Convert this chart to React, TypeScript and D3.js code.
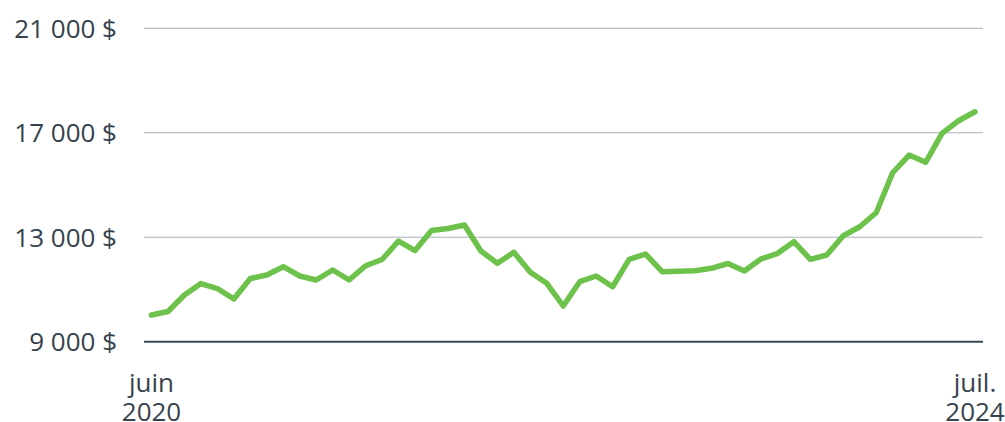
import React from 'react';
import * as d3 from 'd3';

// monthly values, June 2020 -> July 2024
const VALUES = [
  10020, 10156, 10788, 11228, 11036, 10635, 11419, 11553, 11871, 11515,
  11362, 11745, 11362, 11909, 12147, 12855, 12491, 13257, 13333, 13467,
  12472, 12001, 12422, 11657, 11236, 10367, 11297, 11515, 11105, 12154,
  12357, 11680, 11695, 11718, 11810, 11994, 11706, 12166, 12376, 12828,
  12154, 12319, 13058, 13402, 13938, 15469, 16147, 15867, 16978, 17460,
  17804,
];
const Y_TICKS = [9000, 13000, 17000, 21000];
const X_LABELS = [
  { index: 0, lines: ['juin', '2020'] },
  { index: VALUES.length - 1, lines: ['juil.', '2024'] },
];

const W = 1005, H = 422;
const TEXT = '#36434d';
const FONT = '"Open Sans", sans-serif';

const fmt = (v: number) => d3.format(',')(v).replace(/,/g, '\u00a0') + '\u00a0$';

export default function App() {
  const x = d3.scaleLinear().domain([0, VALUES.length - 1]).range([151.5, 975]);
  const y = d3.scaleLinear().domain([9000, 21000]).range([341.7, 28.3]);

  const line = d3.line<number>()
    .x((_, i) => x(i))
    .y(d => y(d));

  return (
    <svg width={W} height={H} style={{ position: 'absolute', left: 0, top: 0 }} fontFamily={FONT}>
      {Y_TICKS.map(t => (
        <g key={t}>
          <line x1={144} x2={983} y1={y(t)} y2={y(t)}
            stroke={t === 9000 ? '#3a4750' : '#aab1b9'}
            strokeWidth={t === 9000 ? 2 : 1} />
          <text x={117} y={y(t) + 9.5} textAnchor="end" fontSize={26} fill={TEXT}>{fmt(t)}</text>
        </g>
      ))}
      <path d={line(VALUES) ?? ''} fill="none" stroke="#6cc24a" strokeWidth={5.5}
        strokeLinejoin="round" strokeLinecap="round" />
      {X_LABELS.map(l => (
        <text key={l.index} x={x(l.index)} y={391.5} textAnchor="middle" fontSize={26} fill={TEXT}>
          {l.lines.map((s, i) => (
            <tspan key={i} x={x(l.index)} dy={i === 0 ? 0 : 29.5}>{s}</tspan>
          ))}
        </text>
      ))}
    </svg>
  );
}
